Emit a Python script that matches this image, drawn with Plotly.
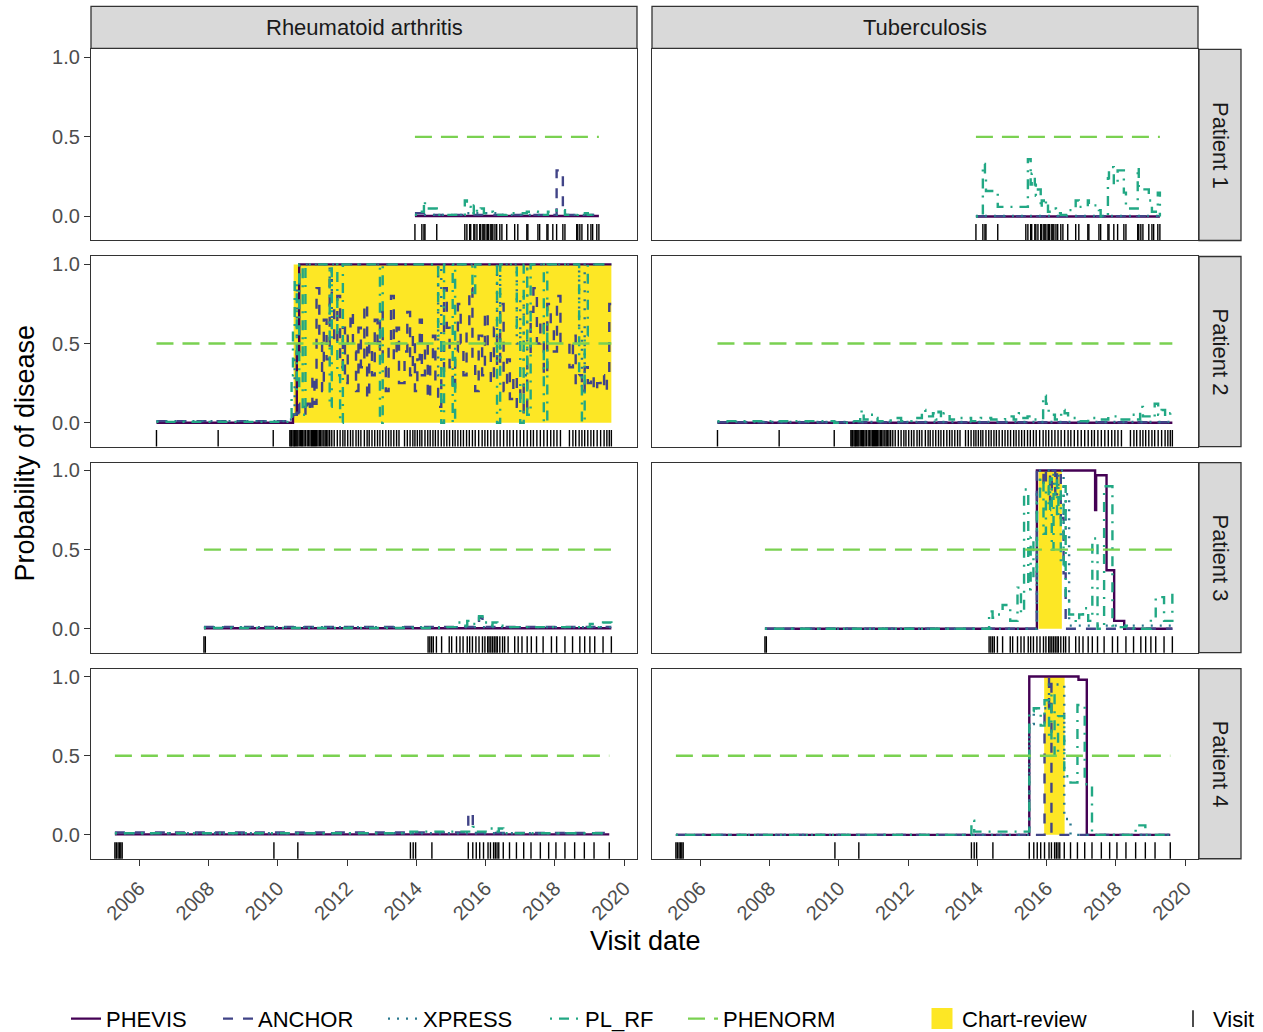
import plotly.graph_objects as go

# ---------------------------------------------------------------- categories
DISEASES = ["Rheumatoid arthritis", "Tuberculosis"]
PATIENTS = ["Patient 1", "Patient 2", "Patient 3", "Patient 4"]
MODELS = ["PHEVIS", "ANCHOR", "XPRESS", "PL_RF", "PHENORM"]
MODEL_COLORS = ["#440154", "#414487", "#2A788E", "#22A884", "#7AD151"]
MODEL_DASHES = ["solid", "10px,10px", "2px,7px", "2px,7px,10px,7px", "17px,9px"]
REVIEW_COLOR = "#FDE725"
X_TICKS = [2006, 2008, 2010, 2012, 2014, 2016, 2018, 2020]
Y_TICKS = [0.0, 0.5, 1.0]
Y_TICK_TEXT = ["0.0", "0.5", "1.0"]
VISIT_Y = -0.1          # probability-axis level at which visits are marked
REVIEW_LOW, REVIEW_HIGH = 0.0, 1.0

# ---------------------------------------------------------------- visits (decimal years)
P1_VISITS = [2013.96, 2014.16, 2014.22, 2014.25, 2014.59, 2015.40, 2015.46, 2015.54, 2015.57,
             2015.66, 2015.69, 2015.75, 2015.83, 2015.86, 2015.92, 2015.95, 2015.98, 2016.04,
             2016.06, 2016.09, 2016.15, 2016.18, 2016.21, 2016.27, 2016.32, 2016.41, 2016.47,
             2016.61, 2016.84, 2016.93, 2017.19, 2017.22, 2017.51, 2017.56, 2017.77, 2017.80,
             2017.94, 2018.05, 2018.23, 2018.29, 2018.63, 2018.66, 2018.72, 2018.78, 2018.95,
             2019.04, 2019.09, 2019.21, 2019.27]
P2_VISITS = [2006.50, 2008.28, 2009.87,
             2010.35, 2010.38, 2010.40, 2010.44, 2010.47, 2010.49, 2010.52, 2010.55, 2010.58,
             2010.62, 2010.66, 2010.69, 2010.72, 2010.76, 2010.80, 2010.85, 2010.89, 2010.93,
             2010.97, 2011.00, 2011.03, 2011.06, 2011.09, 2011.12, 2011.16, 2011.20, 2011.24,
             2011.28, 2011.33, 2011.37, 2011.41, 2011.45, 2011.50, 2011.56, 2011.63, 2011.72,
             2011.80, 2011.88, 2011.94, 2012.02, 2012.10, 2012.17, 2012.26, 2012.33, 2012.40,
             2012.50, 2012.58, 2012.64, 2012.72, 2012.80, 2012.88, 2012.95, 2013.03, 2013.12,
             2013.20, 2013.27, 2013.35, 2013.43, 2013.50, 2013.66, 2013.74, 2013.82, 2013.90,
             2013.96, 2014.03, 2014.10, 2014.16, 2014.25, 2014.33, 2014.40, 2014.48, 2014.55,
             2014.63, 2014.72, 2014.80, 2014.88, 2014.96, 2015.05, 2015.12, 2015.20, 2015.28,
             2015.36, 2015.45, 2015.53, 2015.62, 2015.70, 2015.80, 2015.90, 2015.98, 2016.06,
             2016.15, 2016.24, 2016.33, 2016.42, 2016.52, 2016.62, 2016.70, 2016.80, 2016.90,
             2017.00, 2017.10, 2017.20, 2017.30, 2017.38, 2017.48, 2017.58, 2017.68, 2017.78,
             2017.88, 2017.97, 2018.06, 2018.16, 2018.42, 2018.52, 2018.60, 2018.70, 2018.78,
             2018.86, 2018.95, 2019.04, 2019.12, 2019.22, 2019.32, 2019.42, 2019.50, 2019.57,
             2019.63]
P3_VISITS = [2007.87, 2007.91, 2014.34, 2014.39, 2014.44, 2014.49, 2014.58, 2014.73, 2014.95,
             2015.02, 2015.16, 2015.26, 2015.35, 2015.47, 2015.54, 2015.62, 2015.72, 2015.81,
             2015.91, 2015.98, 2016.06, 2016.10, 2016.15, 2016.20, 2016.25, 2016.30, 2016.34,
             2016.41, 2016.49, 2016.55, 2016.65, 2016.84, 2016.94, 2017.05, 2017.20, 2017.32,
             2017.47, 2017.66, 2017.90, 2018.05, 2018.29, 2018.51, 2018.72, 2018.86, 2019.01,
             2019.15, 2019.39, 2019.63]
P4_VISITS = [2005.30, 2005.34, 2005.39, 2005.43, 2005.47, 2005.51, 2009.89, 2010.58, 2013.83,
             2013.91, 2013.98, 2014.45, 2015.50, 2015.63, 2015.73, 2015.83, 2015.94, 2016.07,
             2016.14, 2016.23, 2016.28, 2016.33, 2016.38, 2016.51, 2016.69, 2016.89, 2017.10,
             2017.31, 2017.58, 2017.82, 2018.03, 2018.29, 2018.57, 2018.85, 2019.13, 2019.57]

# ---------------------------------------------------------------- probabilities (year, prob) step points
# Rheumatoid arthritis - Patient 1
RA_P1_PHEVIS = [(2013.96, 0.003), (2019.27, 0.003)]
RA_P1_ANCHOR = [(2013.96, 0.02), (2014.25, 0.01), (2018.05, 0.29), (2018.23, 0.01), (2019.27, 0.01)]
RA_P1_XPRESS = [(2013.96, 0.01), (2015.40, 0.02), (2016.47, 0.01), (2019.27, 0.01)]
RA_P1_PLRF = [(2013.96, 0.01), (2014.16, 0.03), (2014.22, 0.10), (2014.25, 0.05), (2014.59, 0.01),
              (2015.40, 0.10), (2015.46, 0.06), (2015.57, 0.02), (2015.66, 0.07), (2015.75, 0.03),
              (2015.86, 0.05), (2015.95, 0.02), (2016.06, 0.03), (2016.21, 0.01), (2016.61, 0.02),
              (2017.19, 0.03), (2017.51, 0.01), (2017.80, 0.03), (2018.05, 0.04), (2018.29, 0.01),
              (2018.66, 0.02), (2018.95, 0.01), (2019.27, 0.01)]
RA_P1_PHENORM = [(2013.96, 0.5), (2019.27, 0.5)]
# Tuberculosis - Patient 1
TB_P1_PHEVIS = [(2013.96, 0.0), (2019.27, 0.0)]
TB_P1_ANCHOR = [(2013.96, 0.002), (2019.27, 0.002)]
TB_P1_XPRESS = [(2013.96, 0.003), (2019.27, 0.003)]
TB_P1_PLRF = [(2013.96, 0.0), (2014.16, 0.33), (2014.22, 0.25), (2014.25, 0.16), (2014.59, 0.06),
              (2015.40, 0.06), (2015.46, 0.36), (2015.54, 0.20), (2015.57, 0.27), (2015.66, 0.20),
              (2015.69, 0.13), (2015.75, 0.17), (2015.83, 0.05), (2015.86, 0.10), (2015.92, 0.07),
              (2015.98, 0.10), (2016.04, 0.03), (2016.15, 0.05), (2016.27, 0.02), (2016.41, 0.01),
              (2016.61, 0.04), (2016.84, 0.10), (2016.93, 0.06), (2017.19, 0.10), (2017.22, 0.07),
              (2017.51, 0.04), (2017.56, 0.0), (2017.77, 0.24), (2017.80, 0.31), (2017.94, 0.20),
              (2018.05, 0.29), (2018.23, 0.15), (2018.29, 0.05), (2018.63, 0.31), (2018.66, 0.17),
              (2018.95, 0.10), (2019.04, 0.03), (2019.21, 0.15), (2019.27, 0.0)]
TB_P1_PHENORM = [(2013.96, 0.5), (2019.27, 0.5)]

# Rheumatoid arthritis - Patient 2
RA_P2_PHEVIS = [(2006.50, 0.0), (2010.44, 0.05), (2010.55, 0.45), (2010.62, 1.0), (2019.63, 1.0)]
RA_P2_ANCHOR = [(2006.50, 0.01), (2010.35, 0.01), (2010.44, 0.05), (2010.55, 0.12), (2010.62, 0.06),
                (2010.72, 0.10), (2010.80, 0.05), (2010.85, 0.12), (2010.93, 0.07), (2011.00, 0.30),
                (2011.06, 0.12), (2011.12, 0.85), (2011.20, 0.55), (2011.28, 0.20), (2011.33, 0.65),
                (2011.41, 0.40), (2011.50, 0.90), (2011.56, 0.75), (2011.63, 0.50), (2011.72, 0.80),
                (2011.80, 0.35), (2011.88, 0.60), (2011.94, 0.25), (2012.02, 0.55), (2012.10, 0.70),
                (2012.17, 0.45), (2012.26, 0.20), (2012.33, 0.60), (2012.40, 0.35), (2012.50, 0.75),
                (2012.58, 0.15), (2012.64, 0.50), (2012.72, 0.30), (2012.80, 0.65), (2012.88, 0.45),
                (2012.95, 0.70), (2013.03, 0.35), (2013.12, 0.20), (2013.20, 0.50), (2013.27, 0.80),
                (2013.35, 0.40), (2013.43, 0.60), (2013.50, 0.25), (2013.66, 0.45), (2013.74, 0.70),
                (2013.82, 0.30), (2013.90, 0.55), (2013.96, 0.20), (2014.03, 0.40), (2014.10, 0.65),
                (2014.16, 0.30), (2014.25, 0.50), (2014.33, 0.15), (2014.40, 0.40), (2014.48, 0.55),
                (2014.55, 0.25), (2014.63, 0.10), (2014.72, 0.30), (2014.80, 0.85), (2014.88, 0.60),
                (2014.96, 0.35), (2015.05, 0.20), (2015.12, 0.45), (2015.20, 0.75), (2015.28, 0.50),
                (2015.36, 0.30), (2015.45, 0.60), (2015.53, 0.85), (2015.62, 0.40), (2015.70, 0.20),
                (2015.80, 0.55), (2015.90, 0.30), (2015.98, 0.70), (2016.06, 0.45), (2016.15, 0.25),
                (2016.24, 0.60), (2016.33, 0.35), (2016.42, 0.75), (2016.52, 0.20), (2016.62, 0.40),
                (2016.70, 0.15), (2016.80, 0.30), (2016.90, 0.10), (2017.00, 0.25), (2017.10, 0.05),
                (2017.20, 0.40), (2017.30, 0.70), (2017.38, 0.85), (2017.48, 0.50), (2017.58, 0.65),
                (2017.68, 0.30), (2017.78, 0.75), (2017.88, 0.60), (2017.97, 0.45), (2018.06, 0.80),
                (2018.16, 0.50), (2018.42, 0.35), (2018.52, 0.55), (2018.60, 0.25), (2018.70, 0.30),
                (2018.78, 0.20), (2018.86, 0.35), (2018.95, 0.25), (2019.04, 0.30), (2019.12, 0.20),
                (2019.22, 0.25), (2019.32, 0.30), (2019.42, 0.20), (2019.50, 0.28), (2019.57, 0.75),
                (2019.63, 0.75)]
RA_P2_XPRESS = [(2006.50, 0.01), (2010.35, 0.02), (2010.49, 0.40), (2010.55, 0.85), (2010.62, 1.0),
                (2011.50, 0.60), (2011.56, 1.0), (2014.63, 0.30), (2014.72, 1.0), (2016.33, 0.40),
                (2016.42, 1.0), (2016.90, 0.50), (2017.00, 0.80), (2017.10, 0.30), (2017.20, 1.0),
                (2018.70, 0.60), (2018.78, 0.20), (2018.86, 1.0), (2019.63, 1.0)]
RA_P2_PLRF = [(2006.50, 0.005), (2010.35, 0.02), (2010.40, 0.30), (2010.44, 0.60), (2010.49, 0.90),
              (2010.55, 0.20), (2010.62, 1.0), (2010.72, 0.05), (2010.80, 1.0), (2011.50, 0.10),
              (2011.56, 1.0), (2011.72, 0.30), (2011.80, 0.0), (2011.88, 1.0), (2012.95, 0.0),
              (2013.03, 1.0), (2014.63, 0.55), (2014.72, 0.0), (2014.80, 1.0), (2015.05, 0.0),
              (2015.12, 1.0), (2015.62, 0.80), (2015.70, 1.0), (2016.33, 0.0), (2016.42, 1.0),
              (2016.90, 0.60), (2017.00, 0.0), (2017.10, 1.0), (2017.20, 0.05), (2017.30, 1.0),
              (2017.68, 0.0), (2017.78, 1.0), (2018.70, 0.30), (2018.78, 0.0), (2018.86, 0.55),
              (2018.95, 1.0), (2019.63, 1.0)]
RA_P2_PHENORM = [(2006.50, 0.5), (2019.63, 0.5)]
# Tuberculosis - Patient 2
TB_P2_PHEVIS = [(2006.50, 0.0), (2019.63, 0.0)]
TB_P2_ANCHOR = [(2006.50, 0.003), (2019.63, 0.003)]
TB_P2_XPRESS = [(2006.50, 0.004), (2019.63, 0.004)]
TB_P2_PLRF = [(2006.50, 0.01), (2008.28, 0.01), (2009.87, 0.0), (2010.35, 0.01), (2010.62, 0.04),
              (2010.66, 0.08), (2010.72, 0.02), (2010.93, 0.05), (2011.00, 0.03), (2011.12, 0.01),
              (2011.50, 0.03), (2011.80, 0.01), (2012.10, 0.03), (2012.40, 0.08), (2012.50, 0.04),
              (2012.72, 0.06), (2012.80, 0.02), (2012.88, 0.07), (2012.95, 0.03), (2013.03, 0.06),
              (2013.20, 0.02), (2013.50, 0.03), (2013.82, 0.01), (2014.10, 0.03), (2014.40, 0.02),
              (2014.80, 0.04), (2015.05, 0.02), (2015.20, 0.06), (2015.28, 0.03), (2015.45, 0.04),
              (2015.62, 0.02), (2015.90, 0.17), (2015.98, 0.12), (2016.06, 0.05), (2016.24, 0.02),
              (2016.42, 0.08), (2016.52, 0.06), (2016.62, 0.03), (2016.90, 0.01), (2017.20, 0.03),
              (2017.48, 0.02), (2017.78, 0.04), (2018.06, 0.02), (2018.42, 0.05), (2018.60, 0.02),
              (2018.70, 0.10), (2018.78, 0.04), (2019.04, 0.03), (2019.12, 0.12), (2019.22, 0.05),
              (2019.32, 0.08), (2019.42, 0.04), (2019.57, 0.06), (2019.63, 0.03)]
TB_P2_PHENORM = [(2006.50, 0.5), (2019.63, 0.5)]

# Rheumatoid arthritis - Patient 3
RA_P3_PHEVIS = [(2007.87, 0.003), (2019.63, 0.003)]
RA_P3_ANCHOR = [(2007.87, 0.012), (2015.81, 0.07), (2015.91, 0.012), (2019.63, 0.012)]
RA_P3_XPRESS = [(2007.87, 0.01), (2019.63, 0.01)]
RA_P3_PLRF = [(2007.87, 0.005), (2014.73, 0.01), (2015.16, 0.04), (2015.35, 0.02), (2015.47, 0.05),
              (2015.62, 0.03), (2015.81, 0.08), (2015.91, 0.04), (2016.06, 0.02), (2016.20, 0.04),
              (2016.34, 0.02), (2016.55, 0.01), (2019.01, 0.03), (2019.15, 0.01), (2019.39, 0.04),
              (2019.63, 0.01)]
RA_P3_PHENORM = [(2007.87, 0.5), (2019.63, 0.5)]
# Tuberculosis - Patient 3
TB_P3_PHEVIS = [(2007.87, 0.0), (2015.72, 1.0), (2017.40, 0.75), (2017.43, 0.97), (2017.73, 0.37),
                (2017.95, 0.05), (2018.24, 0.0), (2019.63, 0.0)]
TB_P3_ANCHOR = [(2007.87, 0.0), (2015.72, 1.0), (2015.91, 0.90), (2015.98, 1.0), (2016.10, 0.80),
                (2016.15, 1.0), (2016.25, 0.85), (2016.30, 1.0), (2016.41, 0.70), (2016.49, 0.35),
                (2016.55, 0.0), (2019.63, 0.0)]
TB_P3_XPRESS = [(2007.87, 0.0), (2015.72, 0.85), (2015.81, 1.0), (2016.20, 0.90), (2016.34, 1.0),
                (2016.49, 0.60), (2016.55, 0.85), (2016.65, 0.02), (2019.63, 0.0)]
TB_P3_PLRF = [(2007.87, 0.0), (2014.34, 0.11), (2014.44, 0.07), (2014.58, 0.09), (2014.73, 0.15),
              (2014.95, 0.05), (2015.16, 0.26), (2015.26, 0.10), (2015.35, 0.88), (2015.47, 0.25),
              (2015.54, 0.58), (2015.62, 0.30), (2015.72, 0.80), (2015.81, 0.95), (2015.91, 0.60),
              (2015.98, 0.90), (2016.06, 0.75), (2016.10, 0.95), (2016.15, 0.50), (2016.20, 0.85),
              (2016.25, 0.95), (2016.30, 0.70), (2016.34, 0.90), (2016.41, 0.40), (2016.49, 0.90),
              (2016.55, 0.20), (2016.65, 0.09), (2016.84, 0.04), (2016.94, 0.09), (2017.05, 0.13),
              (2017.20, 0.05), (2017.32, 0.57), (2017.47, 0.0), (2017.66, 0.90), (2017.90, 0.02),
              (2018.05, 0.01), (2018.29, 0.02), (2018.51, 0.0), (2019.01, 0.07), (2019.15, 0.20),
              (2019.39, 0.05), (2019.63, 0.25)]
TB_P3_PHENORM = [(2007.87, 0.5), (2019.63, 0.5)]

# Rheumatoid arthritis - Patient 4
RA_P4_PHEVIS = [(2005.30, 0.003), (2019.57, 0.003)]
RA_P4_ANCHOR = [(2005.30, 0.015), (2015.50, 0.14), (2015.63, 0.012), (2019.57, 0.012)]
RA_P4_XPRESS = [(2005.30, 0.01), (2019.57, 0.01)]
RA_P4_PLRF = [(2005.30, 0.01), (2013.83, 0.02), (2015.63, 0.05), (2015.73, 0.02), (2016.07, 0.04),
              (2016.23, 0.02), (2016.38, 0.04), (2016.51, 0.01), (2019.57, 0.01)]
RA_P4_PHENORM = [(2005.30, 0.5), (2019.57, 0.5)]
# Tuberculosis - Patient 4
TB_P4_PHEVIS = [(2005.30, 0.0), (2015.50, 1.0), (2016.92, 0.98), (2017.16, 0.0), (2019.57, 0.0)]
TB_P4_ANCHOR = [(2005.30, 0.0), (2015.94, 0.78), (2016.07, 1.0), (2016.14, 0.0), (2019.57, 0.0)]
TB_P4_XPRESS = [(2005.30, 0.0), (2015.50, 0.70), (2015.63, 0.80), (2016.07, 0.95), (2016.51, 0.10),
                (2016.69, 0.0), (2019.57, 0.0)]
TB_P4_PLRF = [(2005.30, 0.0), (2013.83, 0.09), (2013.91, 0.02), (2014.45, 0.02), (2015.50, 0.78),
              (2015.63, 0.80), (2015.83, 0.69), (2015.94, 0.85), (2016.07, 0.60), (2016.14, 0.90),
              (2016.23, 0.50), (2016.33, 0.75), (2016.51, 0.37), (2016.69, 0.33), (2016.89, 0.82),
              (2017.10, 0.32), (2017.31, 0.0), (2018.57, 0.06), (2018.85, 0.0), (2019.57, 0.0)]
TB_P4_PHENORM = [(2005.30, 0.5), (2019.57, 0.5)]

# ---------------------------------------------------------------- chart-review periods (start, end)
RA_P2_REVIEW = [(2010.46, 2019.63)]
TB_P3_REVIEW = [(2015.77, 2016.44)]
TB_P4_REVIEW = [(2015.93, 2016.52)]

# ---------------------------------------------------------------- lookup tables built from the lists
VISITS = [P1_VISITS, P2_VISITS, P3_VISITS, P4_VISITS]
SERIES = {
    (0, 0): [RA_P1_PHEVIS, RA_P1_ANCHOR, RA_P1_XPRESS, RA_P1_PLRF, RA_P1_PHENORM],
    (1, 0): [TB_P1_PHEVIS, TB_P1_ANCHOR, TB_P1_XPRESS, TB_P1_PLRF, TB_P1_PHENORM],
    (0, 1): [RA_P2_PHEVIS, RA_P2_ANCHOR, RA_P2_XPRESS, RA_P2_PLRF, RA_P2_PHENORM],
    (1, 1): [TB_P2_PHEVIS, TB_P2_ANCHOR, TB_P2_XPRESS, TB_P2_PLRF, TB_P2_PHENORM],
    (0, 2): [RA_P3_PHEVIS, RA_P3_ANCHOR, RA_P3_XPRESS, RA_P3_PLRF, RA_P3_PHENORM],
    (1, 2): [TB_P3_PHEVIS, TB_P3_ANCHOR, TB_P3_XPRESS, TB_P3_PLRF, TB_P3_PHENORM],
    (0, 3): [RA_P4_PHEVIS, RA_P4_ANCHOR, RA_P4_XPRESS, RA_P4_PLRF, RA_P4_PHENORM],
    (1, 3): [TB_P4_PHEVIS, TB_P4_ANCHOR, TB_P4_XPRESS, TB_P4_PLRF, TB_P4_PHENORM],
}
REVIEWS = {(0, 1): RA_P2_REVIEW, (1, 2): TB_P3_REVIEW, (1, 3): TB_P4_REVIEW}

# ---------------------------------------------------------------- geometry / style
W, H = 1263, 1040
# measured: the photographed page maps figure y to window y as 2.6 + 0.99 * y
Y_OFF, Y_SCALE = 2.6, 0.99
FONT = "Liberation Sans"
AXIS_COLOR = "#333333"
X_RANGE = [2004.61, 2020.37]
Y_RANGE = [-0.151, 1.05]
COL_PX = [(91, 637), (652, 1198)]                     # window pixels
ROW_PX = [(49, 240), (256, 446), (462, 652), (668, 858)]
STRIP_TOP_PX = (6, 48)
STRIP_RIGHT_PX = (1199, 1241)
LINE_W = 2.4


def fx(p):
    return p / W


def fy(p):
    return 1 - ((p - Y_OFF) / Y_SCALE) / H


fig = go.Figure()
layout = {}
shapes = []
annotations = []

legend_names = ["legend", "legend2", "legend3", "legend4", "legend5", "legend6", "legend7"]

for r in range(len(PATIENTS)):
    for c in range(len(DISEASES)):
        k = r * 2 + c + 1
        sfx = "" if k == 1 else str(k)
        xa, ya = "x" + sfx, "y" + sfx
        first = (k == 1)
        for (s, e) in REVIEWS.get((c, r), []):
            fig.add_trace(go.Scatter(
                x=[s, e, e, s, s], y=[REVIEW_LOW, REVIEW_LOW, REVIEW_HIGH, REVIEW_HIGH, REVIEW_LOW],
                mode="lines", fill="toself", fillcolor=REVIEW_COLOR,
                line=dict(width=0, color=REVIEW_COLOR), showlegend=False,
                hoverinfo="skip", xaxis=xa, yaxis=ya))
        for m, model in enumerate(MODELS):
            pts = SERIES[(c, r)][m]
            fig.add_trace(go.Scatter(
                x=[p[0] for p in pts], y=[p[1] for p in pts], mode="lines", name=model,
                line=dict(shape="hv", color=MODEL_COLORS[m], width=LINE_W, dash=MODEL_DASHES[m]),
                showlegend=first, legend=legend_names[m], xaxis=xa, yaxis=ya))
        fig.add_trace(go.Scatter(
            x=VISITS[r], y=[VISIT_Y] * len(VISITS[r]), mode="markers", name="Visit",
            marker=dict(symbol="line-ns", size=12, color="black",
                        line=dict(width=1.4, color="black")),
            showlegend=first, legend="legend7", xaxis=xa, yaxis=ya))

        bottom, left = (r == len(PATIENTS) - 1), (c == 0)
        layout["xaxis" + sfx] = dict(
            domain=[fx(COL_PX[c][0]), fx(COL_PX[c][1])], anchor=ya, range=X_RANGE,
            showline=True, mirror=True, linecolor=AXIS_COLOR, linewidth=1.3,
            showgrid=False, zeroline=False, tickmode="array", tickvals=X_TICKS,
            ticktext=[str(t) for t in X_TICKS], ticks="outside" if bottom else "",
            ticklen=6, tickwidth=1.3, tickcolor=AXIS_COLOR, showticklabels=bottom,
            tickangle=-45, ticklabelstandoff=3,
            tickfont=dict(family=FONT, size=20, color="#4D4D4D"))
        layout["yaxis" + sfx] = dict(
            domain=[fy(ROW_PX[r][1]), fy(ROW_PX[r][0])], anchor=xa, range=Y_RANGE,
            showline=True, mirror=True, linecolor=AXIS_COLOR, linewidth=1.3,
            showgrid=False, zeroline=False, tickmode="array", tickvals=Y_TICKS,
            ticktext=Y_TICK_TEXT, ticks="outside" if left else "", ticklen=6,
            tickwidth=1.3, tickcolor=AXIS_COLOR, showticklabels=left,
            tickfont=dict(family=FONT, size=20, color="#4D4D4D"))

# legend-only key for the chart-review band
fig.add_trace(go.Scatter(
    x=[None], y=[None], mode="markers", name="Chart-review",
    marker=dict(symbol="square", size=16, color=REVIEW_COLOR, line=dict(width=5, color=REVIEW_COLOR)),
    showlegend=True, legend="legend6"))

# strips
for c, disease in enumerate(DISEASES):
    shapes.append(dict(type="rect", xref="paper", yref="paper",
                       x0=fx(COL_PX[c][0]), x1=fx(COL_PX[c][1]),
                       y0=fy(STRIP_TOP_PX[1]), y1=fy(STRIP_TOP_PX[0]),
                       fillcolor="#D9D9D9", line=dict(color=AXIS_COLOR, width=1.3), layer="below"))
    annotations.append(dict(text=disease, xref="paper", yref="paper",
                            x=fx((COL_PX[c][0] + COL_PX[c][1]) / 2),
                            y=fy((STRIP_TOP_PX[0] + STRIP_TOP_PX[1]) / 2),
                            showarrow=False, xanchor="center", yanchor="middle",
                            font=dict(family=FONT, size=22, color="#1A1A1A")))
for r, patient in enumerate(PATIENTS):
    shapes.append(dict(type="rect", xref="paper", yref="paper",
                       x0=fx(STRIP_RIGHT_PX[0]), x1=fx(STRIP_RIGHT_PX[1]),
                       y0=fy(ROW_PX[r][1]), y1=fy(ROW_PX[r][0]),
                       fillcolor="#D9D9D9", line=dict(color=AXIS_COLOR, width=1.3), layer="below"))
    annotations.append(dict(text=patient, xref="paper", yref="paper",
                            x=fx((STRIP_RIGHT_PX[0] + STRIP_RIGHT_PX[1]) / 2),
                            y=fy((ROW_PX[r][0] + ROW_PX[r][1]) / 2), textangle=90,
                            showarrow=False, xanchor="center", yanchor="middle",
                            font=dict(family=FONT, size=22, color="#1A1A1A")))

# axis titles
annotations.append(dict(text="Probability of disease", xref="paper", yref="paper",
                        x=fx(25), y=fy(453), textangle=-90, showarrow=False,
                        xanchor="center", yanchor="middle",
                        font=dict(family=FONT, size=27, color="black")))
annotations.append(dict(text="Visit date", xref="paper", yref="paper",
                        x=fx(645), y=fy(940), showarrow=False,
                        xanchor="center", yanchor="middle",
                        font=dict(family=FONT, size=27, color="black")))

# legends, one per key so each sits where the reference has it
LEGEND_TEXT_PX = [106, 258, 423, 585, 723, 962, 1213]
for i, name in enumerate(legend_names):
    layout[name] = dict(orientation="h", x=fx(LEGEND_TEXT_PX[i] - 40), y=fy(1018),
                        xanchor="left", yanchor="middle", bgcolor="rgba(0,0,0,0)",
                        borderwidth=0, itemsizing="trace",
                        font=dict(family=FONT, size=22, color="black"))

fig.update_layout(
    width=W, height=H, margin=dict(l=0, r=0, t=0, b=0),
    plot_bgcolor="white", paper_bgcolor="white",
    shapes=shapes, annotations=annotations, **layout)

# let the figure sit flush in the window (no default page margin)
PAGE_JS = ("document.body.style.margin='0';"
           "document.documentElement.style.overflow='hidden';"
           "document.body.style.overflow='hidden';")
fig.write_html("out.html", post_script=PAGE_JS, config={"displayModeBar": False})
